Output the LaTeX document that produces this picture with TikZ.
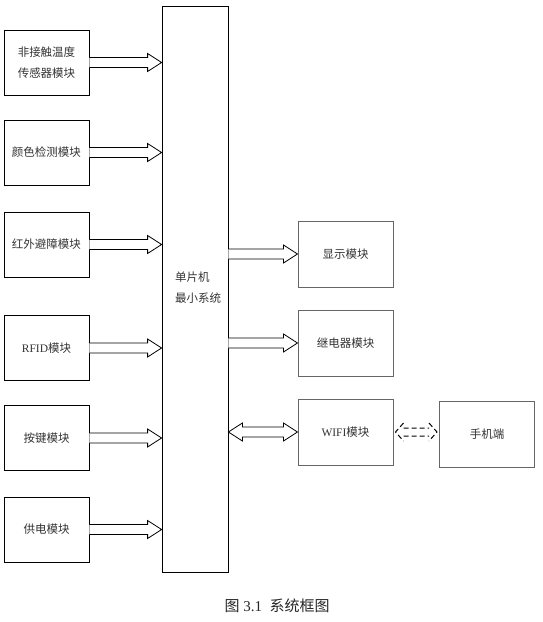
\documentclass[tikz,border=0pt]{standalone}
\usepackage{fontspec}
\setmainfont{Liberation Serif}
\newfontfamily\cjk{Noto Sans CJK SC}
\usetikzlibrary{calc}
\newcommand{\zh}[1]{{\cjk #1}}
\tikzset{
  x=1pt, y=-1pt,
  lbox/.style={draw=black, line width=0.8pt, minimum width=85pt, minimum height=65pt, inner sep=0pt, align=center, text=black!80, font=\fontsize{11.5pt}{21pt}\selectfont},
  rbox/.style={draw=black!60, line width=1pt, minimum width=95pt, minimum height=66pt, inner sep=0pt, align=center, text=black!80, font=\fontsize{11.5pt}{21pt}\selectfont},
  fat/.style={draw=black, line width=0.8pt, fill=white, to path={let \p1=(\tikztostart), \p2=(\tikztotarget) in (\x1,\y1+5pt) -- (\x2-14pt,\y1+5pt) -- (\x2-14pt,\y1+9pt) -- (\x2,\y1) -- (\x2-14pt,\y1-9pt) -- (\x2-14pt,\y1-5pt) -- (\x1,\y1-5pt)}},
  fatboth/.style={draw=black, line width=0.8pt, fill=white, to path={let \p1=(\tikztostart), \p2=(\tikztotarget) in (\x1,\y1) -- (\x1+14pt,\y1+9pt) -- (\x1+14pt,\y1+5pt) -- (\x2-14pt,\y1+5pt) -- (\x2-14pt,\y1+9pt) -- (\x2,\y1) -- (\x2-14pt,\y1-9pt) -- (\x2-14pt,\y1-5pt) -- (\x1+14pt,\y1-5pt) -- (\x1+14pt,\y1-9pt) -- cycle}},
  dashboth/.style={draw=black, line width=1pt, dash pattern=on 5pt off 3pt, to path={let \p1=(\tikztostart), \p2=(\tikztotarget) in (\x1+10pt,\y1+9pt) -- (\x1+2pt,\y1) -- (\x1+10pt,\y1-9pt) (\x1+10pt,\y1+4pt) -- (\x2-10pt,\y1+4pt) (\x1+10pt,\y1-4pt) -- (\x2-10pt,\y1-4pt) (\x2-10pt,\y1+9pt) -- (\x2-2pt,\y1) -- (\x2-10pt,\y1-9pt)}},
}
\begin{document}
\begin{tikzpicture}
\useasboundingbox (0,0) rectangle (542,622);
% centre box
\node[draw=black, line width=0.8pt, minimum width=66pt, minimum height=566pt, inner sep=0pt] (c) at (195,289) {};
\node[align=left, text=black!80, font=\fontsize{11.5pt}{21pt}\selectfont] (ct) at (198,288) {\zh{单片机}\\\zh{最小系统}};
% left boxes
\node[lbox] (l1) at (46.5,62.5) {\zh{非接触温度}\\\zh{传感器模块}};
\node[lbox] (l2) at (46.5,152.5) {\zh{颜色检测模块}};
\node[lbox] (l3) at (46.5,244.5) {\zh{红外避障模块}};
\node[lbox] (l4) at (46.5,348) {RFID\zh{模块}};
\node[lbox] (l5) at (46.5,438) {\zh{按键模块}};
\node[lbox] (l6) at (46.5,529.5) {\zh{供电模块}};
% right boxes
\node[rbox] (r1) at (345.5,254) {\zh{显示模块}};
\node[rbox] (r2) at (345.5,343) {\zh{继电器模块}};
\node[rbox] (r3) at (345.5,432) {WIFI\zh{模块}};
\node[rbox] (r4) at (487,434) {\zh{手机端}};
% arrows
\foreach \b in {l1,l2,l3,l4,l5,l6}
  \draw[fat] (\b.east) to (\b.east -| c.west);
\draw[fat] (r1.west -| c.east) to (r1.west);
\draw[fat] (r2.west -| c.east) to (r2.west);
\draw[fatboth] (r3.west -| c.east) to (r3.west);
\draw[dashboth] (r3.east) to (r3.east -| r4.west);
% caption
\node[font=\fontsize{15pt}{17pt}\selectfont, text=black!85] (cap) at (277,606) {\zh{图}~3.1~~\zh{系统框图}};
\end{tikzpicture}
\end{document}
